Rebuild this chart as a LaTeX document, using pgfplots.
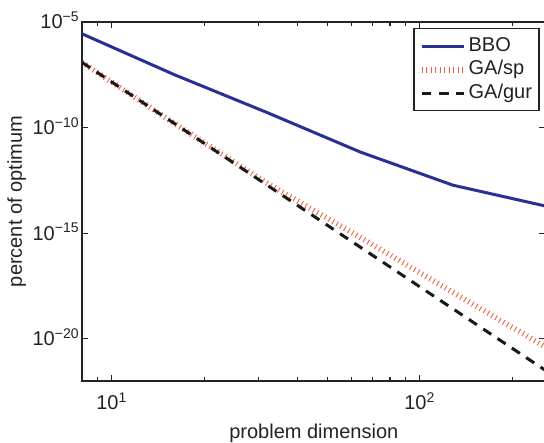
\documentclass[border=0pt]{standalone}
\usepackage{fontspec}
\setmainfont{Liberation Sans}
\usepackage{pgfplots}
\pgfplotsset{compat=1.18}
\definecolor{bbo}{RGB}{40,48,150}
\definecolor{gasp}{RGB}{240,95,65}
\definecolor{axgray}{RGB}{35,35,35}

\begin{document}
\begin{tikzpicture}
\begin{loglogaxis}[
  name=ax,
  scale only axis,
  width=231.75pt, height=179.6pt,
  xmin=8, xmax=256, ymin=1e-22, ymax=1e-5,
  xtick={10,100},
  xticklabels={10\textsuperscript{1},10\textsuperscript{2}},
  minor xtick={9,20,30,40,50,60,70,80,90,200},
  ytick={1e-20,1e-15,1e-10,1e-5},
  yticklabels={10\textsuperscript{−20},10\textsuperscript{−15},10\textsuperscript{−10},10\textsuperscript{−5}},
  minor ytick={},
  tick align=inside, tick pos=both,
  major tick length=3.2pt, minor tick length=2pt,
  axis line style={line width=0.9pt, axgray},
  every tick/.style={axgray, line width=0.6pt},
  font=\fontsize{10}{12}\selectfont,
  xticklabel style={inner sep=0pt, yshift=-5.5pt, text=axgray},
  yticklabel style={anchor=base east, inner sep=0pt, xshift=-1pt, yshift=-3.5pt, text=axgray},
  xlabel={problem dimension},
  ylabel={percent of optimum},
  xlabel style={at={(axis description cs:0.5,-0.1448)}, anchor=center, text=axgray},
  ylabel style={at={(axis description cs:-0.1407,0.5)}, anchor=center, text=axgray},
  legend cell align=left,
  legend style={at={(0.987,0.982)}, anchor=north east, draw=axgray, line width=0.6pt,
    inner xsep=2.5pt, inner ysep=3pt, row sep=0.2pt,
    nodes={inner sep=1pt, text height=7.3pt, text depth=2.2pt, text=axgray}},
  legend image code/.code={\draw[#1] (0pt,0pt) -- (21pt,0pt);},
]
% BBO
\addplot[bbo, line width=1.5pt] coordinates {
  (8,2.7e-6) (16,3.09e-8) (32,5.0e-10) (64,6.92e-12) (128,1.86e-13) (256,1.91e-14)};
\addlegendentry{BBO}
% GA/sp
\addplot[gasp, line width=2.8pt, dash pattern=on 0.45pt off 1.8pt] coordinates {
  (8,1.2e-7) (16,1.51e-10) (32,2.24e-13) (64,6.31e-16) (128,1.58e-18) (256,4.07e-21)};
\addlegendentry{GA/sp}
% GA/gur
\addplot[black!90, line width=1.5pt, dash pattern=on 4.8pt off 3.8pt] coordinates {
  (8,1.2e-7) (16,1.51e-10) (32,1.82e-13) (64,2.19e-16) (128,2.63e-19) (256,3.16e-22)};
\addlegendentry{GA/gur}
\end{loglogaxis}
\pgfresetboundingbox
\path ([xshift=-41pt,yshift=-30.5pt]ax.south west) rectangle ([xshift=-0.8pt,yshift=10.9pt]ax.north east);
\end{tikzpicture}
\end{document}
